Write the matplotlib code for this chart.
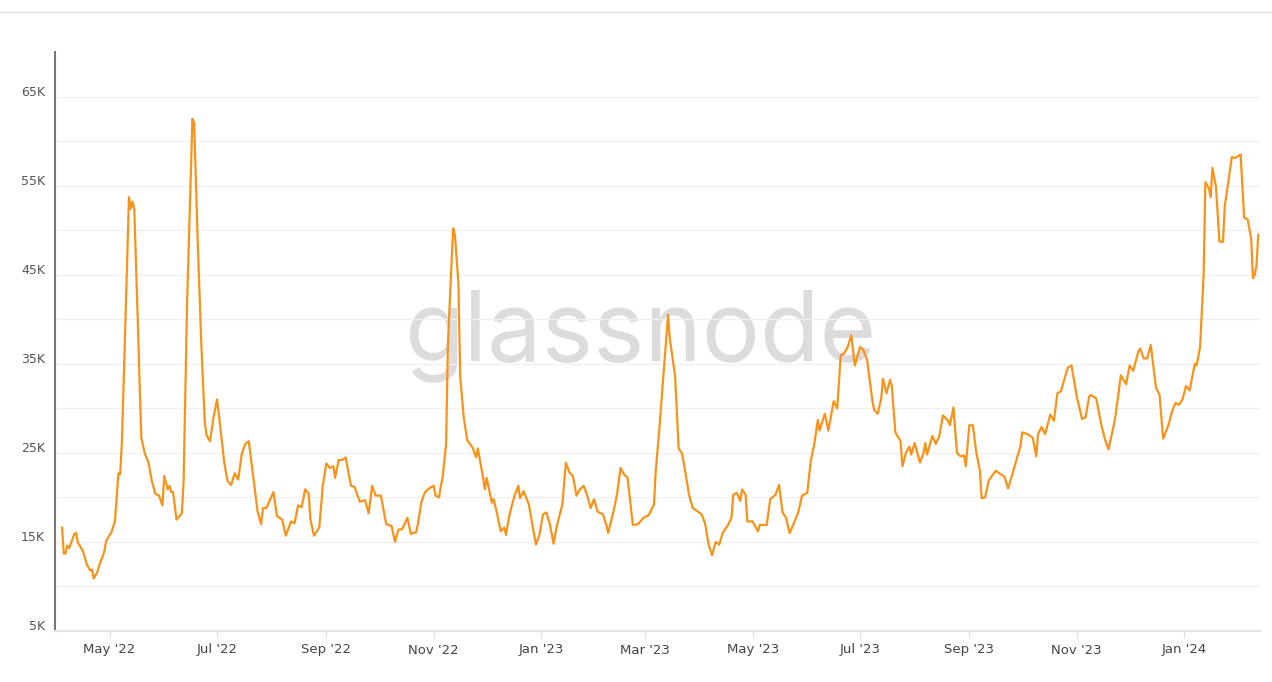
import matplotlib
matplotlib.use("Agg")
import matplotlib.pyplot as plt
import matplotlib.transforms as mtrans
import pandas as pd

dates_1 = ["2022-04-04","2022-04-05","2022-04-06","2022-04-07","2022-04-08","2022-04-11","2022-04-12","2022-04-13","2022-04-14","2022-04-16","2022-04-18","2022-04-20","2022-04-21","2022-04-22","2022-04-24","2022-04-25","2022-04-28","2022-04-29","2022-05-02","2022-05-04","2022-05-06","2022-05-07","2022-05-08","2022-05-10","2022-05-12","2022-05-13","2022-05-14","2022-05-15","2022-05-17","2022-05-18","2022-05-19","2022-05-21","2022-05-23","2022-05-25","2022-05-27","2022-05-29","2022-05-31","2022-06-01","2022-06-03","2022-06-04","2022-06-05","2022-06-06","2022-06-08","2022-06-11","2022-06-12","2022-06-14","2022-06-16","2022-06-17","2022-06-18","2022-06-20","2022-06-22","2022-06-24","2022-06-25","2022-06-27","2022-06-29","2022-07-01","2022-07-03","2022-07-05","2022-07-07","2022-07-09","2022-07-11","2022-07-13","2022-07-15","2022-07-17","2022-07-19","2022-07-21","2022-07-24","2022-07-26","2022-07-27","2022-07-29","2022-08-02","2022-08-04","2022-08-07","2022-08-09","2022-08-12","2022-08-14","2022-08-16","2022-08-18","2022-08-20","2022-08-22","2022-08-23","2022-08-25","2022-08-28","2022-08-30","2022-09-01","2022-09-03","2022-09-05","2022-09-06","2022-09-08","2022-09-10","2022-09-12","2022-09-15","2022-09-17","2022-09-20","2022-09-23","2022-09-25","2022-09-27","2022-09-29","2022-10-02","2022-10-05","2022-10-08","2022-10-10","2022-10-12","2022-10-14","2022-10-17","2022-10-19","2022-10-22","2022-10-23","2022-10-25","2022-10-27","2022-10-30"]
values_1 = [16.6,13.7,13.7,14.6,14.3,15.9,16.0,14.9,14.6,13.9,12.5,11.8,11.9,10.9,11.6,12.3,13.9,15.1,16.1,17.3,22.7,22.6,26.3,39.8,53.7,52.4,53.2,52.4,39.8,33.0,26.7,24.9,24.0,21.8,20.4,20.2,19.1,22.4,20.9,21.3,20.6,20.6,17.5,18.2,21.8,42.0,55.5,62.5,62.0,48.7,37.5,28.5,27.0,26.3,29.0,31.0,27.6,24.0,21.8,21.4,22.7,22.0,24.9,26.0,26.3,23.1,18.4,17.0,18.8,18.8,20.6,17.9,17.5,15.7,17.3,17.1,19.1,18.9,20.9,20.4,17.5,15.7,16.6,21.3,23.8,23.3,23.5,22.2,24.2,24.2,24.5,21.3,21.2,19.5,19.7,18.2,21.3,20.2,20.2,17.0,16.8,15.0,16.4,16.4,17.7,15.9,16.1,17.0,19.5,20.6,21.1]

dates_2 = ["2022-11-01","2022-11-02","2022-11-04","2022-11-05","2022-11-06","2022-11-08","2022-11-09","2022-11-11","2022-11-12","2022-11-13","2022-11-15","2022-11-16","2022-11-18","2022-11-20","2022-11-23","2022-11-25","2022-11-26","2022-11-29","2022-11-30","2022-12-01","2022-12-04","2022-12-05","2022-12-07","2022-12-09","2022-12-11","2022-12-12","2022-12-14","2022-12-17","2022-12-19","2022-12-20","2022-12-22","2022-12-25","2022-12-27","2022-12-29","2022-12-31","2023-01-02","2023-01-04","2023-01-06","2023-01-08","2023-01-10","2023-01-13","2023-01-15","2023-01-17","2023-01-19","2023-01-21","2023-01-23","2023-01-25","2023-01-27","2023-01-29","2023-01-31","2023-02-02","2023-02-05","2023-02-07","2023-02-08","2023-02-11","2023-02-13","2023-02-15","2023-02-17","2023-02-19","2023-02-22","2023-02-25","2023-02-28","2023-03-03","2023-03-06","2023-03-07","2023-03-09","2023-03-11","2023-03-14","2023-03-15","2023-03-18","2023-03-20","2023-03-22","2023-03-24","2023-03-26","2023-03-28","2023-03-31","2023-04-02","2023-04-04","2023-04-06","2023-04-08","2023-04-10","2023-04-12","2023-04-14","2023-04-17","2023-04-19","2023-04-20","2023-04-22","2023-04-24","2023-04-25","2023-04-27","2023-04-28","2023-05-01","2023-05-04","2023-05-05","2023-05-09","2023-05-11","2023-05-14","2023-05-16","2023-05-18","2023-05-20","2023-05-22","2023-05-24","2023-05-27","2023-05-29","2023-06-01","2023-06-03","2023-06-05","2023-06-07","2023-06-08","2023-06-11","2023-06-13","2023-06-16","2023-06-18","2023-06-20"]
values_2 = [21.3,20.2,20.0,21.3,22.2,26.0,37.0,46.0,50.2,49.5,44.0,33.6,29.0,26.4,25.6,24.5,25.5,22.2,20.9,22.2,19.4,19.8,18.1,16.2,16.6,15.8,18.1,20.3,21.3,19.9,20.7,19.2,16.9,14.7,15.8,18.1,18.3,16.9,14.8,16.9,19.2,23.9,22.8,22.4,20.2,20.9,21.3,20.3,18.8,19.8,18.4,18.1,16.9,16.0,18.4,20.3,23.3,22.6,22.2,16.9,17.0,17.7,18.0,19.2,23.0,27.5,32.8,40.5,37.8,33.6,25.5,24.9,22.6,20.2,18.8,18.4,18.1,17.1,14.7,13.5,15.0,14.7,16.0,16.9,17.7,20.3,20.5,19.6,20.9,20.3,17.3,17.3,16.2,16.9,16.9,19.8,20.3,21.4,18.3,17.7,16.0,16.9,18.4,20.2,20.5,24.1,26.0,28.7,27.5,29.4,27.5,30.8,30.0,35.9]

dates_3 = ["2023-06-22","2023-06-24","2023-06-26","2023-06-28","2023-07-01","2023-07-03","2023-07-05","2023-07-08","2023-07-09","2023-07-11","2023-07-13","2023-07-14","2023-07-16","2023-07-18","2023-07-19","2023-07-21","2023-07-24","2023-07-25","2023-07-27","2023-07-29","2023-07-30","2023-08-01","2023-08-04","2023-08-06","2023-08-07","2023-08-08","2023-08-11","2023-08-13","2023-08-15","2023-08-17","2023-08-20","2023-08-21","2023-08-23","2023-08-25","2023-08-27","2023-08-29","2023-08-30","2023-09-01","2023-09-03","2023-09-05","2023-09-07","2023-09-08","2023-09-10","2023-09-12","2023-09-16","2023-09-18","2023-09-21","2023-09-23","2023-09-25","2023-09-28","2023-09-30","2023-10-01","2023-10-04","2023-10-07","2023-10-09","2023-10-10","2023-10-12","2023-10-14","2023-10-17","2023-10-19","2023-10-21","2023-10-23","2023-10-25","2023-10-27","2023-10-29","2023-11-01","2023-11-04","2023-11-06","2023-11-08","2023-11-09","2023-11-12","2023-11-15","2023-11-17","2023-11-19","2023-11-22","2023-11-23","2023-11-26","2023-11-29","2023-12-01","2023-12-03","2023-12-06","2023-12-07","2023-12-09","2023-12-11","2023-12-13","2023-12-16","2023-12-18","2023-12-20","2023-12-23","2023-12-25","2023-12-27","2023-12-29","2023-12-31","2024-01-02","2024-01-04","2024-01-07","2024-01-08","2024-01-10","2024-01-12","2024-01-13","2024-01-15","2024-01-16","2024-01-17","2024-01-19","2024-01-21","2024-01-23","2024-01-24","2024-01-26","2024-01-28","2024-01-30","2024-02-02","2024-02-04","2024-02-06","2024-02-08","2024-02-09","2024-02-10","2024-02-11","2024-02-12"]
values_3 = [36.2,36.9,38.2,34.8,36.9,36.5,35.4,30.8,29.8,29.4,31.1,33.3,31.7,33.2,32.5,27.3,26.3,23.5,25.0,25.7,24.8,26.1,23.9,25.0,26.1,24.8,26.9,26.0,26.9,29.2,28.6,28.1,30.1,25.0,24.6,24.7,23.5,28.1,28.1,25.0,23.0,19.9,20.0,21.9,23.0,22.7,22.3,21.0,22.3,24.4,25.7,27.3,27.1,26.7,24.6,27.1,27.9,27.1,29.3,28.6,31.7,31.9,33.3,34.6,34.8,31.3,28.8,29.0,31.3,31.5,31.1,28.1,26.5,25.4,28.1,29.2,33.7,32.7,34.8,34.2,36.4,36.7,35.6,35.6,37.1,32.3,31.5,26.6,28.1,29.6,30.6,30.4,31.0,32.5,32.0,35.0,34.8,36.9,45.0,55.4,54.7,53.7,57.0,54.9,48.7,48.7,52.7,55.4,58.2,58.1,58.5,51.4,51.2,49.0,44.6,45.0,46.0,49.5]

series = pd.Series(values_1 + values_2 + values_3,
                   index=pd.to_datetime(dates_1 + dates_2 + dates_3))

ytick_values = [5, 15, 25, 35, 45, 55, 65]
ytick_labels = ["5K", "15K", "25K", "35K", "45K", "55K", "65K"]
grid_values = list(range(5, 70, 5))
xtick_dates = ["2022-05-01","2022-07-01","2022-09-01","2022-11-01","2023-01-01","2023-03-01","2023-05-01","2023-07-01","2023-09-01","2023-11-01","2024-01-01"]
xtick_labels = ["May '22","Jul '22","Sep '22","Nov '22","Jan '23","Mar '23","May '23","Jul '23","Sep '23","Nov '23","Jan '24"]

W, H = 1272, 682
fig = plt.figure(figsize=(W/100, H/100), dpi=100)
ax = fig.add_axes([55/W, 1-631/H, (1260-55)/W, (631-52)/H])

fig.add_artist(plt.Line2D([0, 1], [1-12/H, 1-12/H], color="#dddddd", lw=1))

ax.text(0.486, 0.51, "glassnode", transform=ax.transAxes, fontsize=70,
        color="#dcdcdc", ha="center", va="center", zorder=0,
        family="Inter", fontweight="normal")

for g in grid_values:
    ax.axhline(g, color="#f0f0f0", lw=1, zorder=1)

ax.plot(series.index, series.values, color="#F7931A", lw=1.6, zorder=3)

ax.set_ylim(5, 70)
ax.set_xlim(pd.Timestamp("2022-03-31"), pd.Timestamp("2024-02-13"))
ax.set_yticks(ytick_values)
ax.set_yticklabels(ytick_labels)
ax.tick_params(axis="y", length=0, labelsize=9, labelcolor="#555555", pad=10)
for lab in ax.get_yticklabels():
    lab.set_transform(mtrans.blended_transform_factory(ax.transAxes, ax.transData)
                      + mtrans.ScaledTranslation(-10/100, 6/100, fig.dpi_scale_trans))

ax.set_xticks(pd.to_datetime(xtick_dates))
ax.set_xticklabels(xtick_labels)
ax.tick_params(axis="x", length=5, color="#e0e0e0", labelsize=9.5, labelcolor="#444444", pad=4)

for s in ["top", "right"]:
    ax.spines[s].set_visible(False)
ax.spines["left"].set_color("#777777")
ax.spines["left"].set_linewidth(1.5)
ax.spines["bottom"].set_color("#e3e3e3")
ax.spines["bottom"].set_linewidth(1.5)

fig.savefig("out.png", dpi=100)
